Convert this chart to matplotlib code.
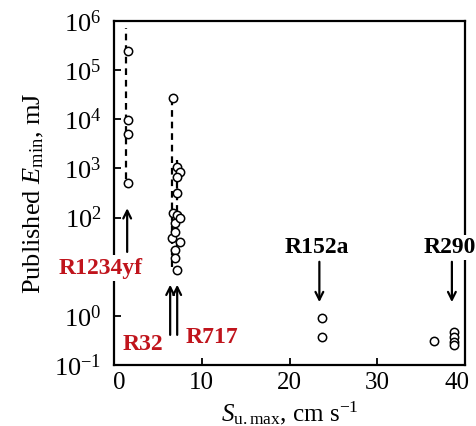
import numpy as np
import matplotlib
matplotlib.use("Agg")
import matplotlib.pyplot as plt
from matplotlib.transforms import ScaledTranslation

plt.rcParams['font.family'] = ['Liberation Serif', 'DejaVu Serif']
plt.rcParams['mathtext.fontset'] = 'custom'
plt.rcParams['mathtext.rm'] = 'Liberation Serif'
plt.rcParams['mathtext.it'] = 'Liberation Serif:italic'

# published minimum ignition energies (mJ) vs max burning velocity (cm/s)
r1234yf_x = [1.6, 1.6, 1.6, 1.6]
r1234yf_e = [2.4e5, 9.5e3, 5.0e3, 500]

r32_x = [6.7, 6.7, 6.6, 6.95, 6.95, 6.95, 6.95]
r32_e = [2.7e4, 123, 38, 51, 22, 15, 77]

r717_x = [7.2, 7.5, 7.2, 7.2, 7.2, 7.5, 7.5, 7.2]
r717_e = [1070, 850, 670, 320, 112, 100, 32, 8.5]

r152a_x = [23.7, 23.7]
r152a_e = [0.91, 0.37]

r290_x = [36.5, 38.7, 38.7, 38.7, 38.7]
r290_e = [0.31, 0.46, 0.37, 0.29, 0.25]

# dashed ranges: (x, low, high)
ranges = [(1.4, 600, 7.2e5), (6.6, 10, 2.7e4), (7.2, 15, 1.5e3), (23.6, 0.75, 0.9)]

# labels: text, x, y, colour
labels = [("R1234yf", -1.5, 9.4, "#C0141C"),
          ("R32", 3.3, 0.26, "#C0141C"),
          ("R717", 11.2, 0.37, "#C0141C"),
          ("R152a", 23.1, 25, "black"),
          ("R290", 38.3, 25, "black")]

# arrows: x, tail y, head y
arrows = [(1.5, 20, 155), (6.4, 0.41, 4.3), (7.2, 0.41, 4.3),
          (23.4, 12.6, 1.9), (38.5, 12.6, 1.9)]

xticks = [0, 10, 20, 30, 40]
ytick_exp = [-1, 0, 1, 2, 3, 4, 5, 6]

fig = plt.figure(figsize=(4.76, 4.26), dpi=100)
ax = fig.add_axes([0.2395, 0.1432, 0.7375, 0.8075])

for x, lo, hi in ranges:
    ax.plot([x, x], [lo, hi], color='black', lw=1.6, ls=(0, (3, 2.2)), zorder=2)

for xs, es in [(r1234yf_x, r1234yf_e), (r32_x, r32_e), (r717_x, r717_e),
               (r152a_x, r152a_e), (r290_x, r290_e)]:
    ax.plot(xs, es, 'o', ms=6, mfc='white', mec='black', mew=1.1, ls='none', zorder=3)

for x, tail, head in arrows:
    ax.annotate('', xy=(x, head), xytext=(x, tail),
                arrowprops=dict(arrowstyle='->', color='black', lw=1.6,
                                mutation_scale=14, shrinkA=0, shrinkB=0),
                zorder=4)

for text, x, y, col in labels:
    ax.text(x, y, text, color=col, fontsize=17, fontweight='bold', ha='center',
            va='center', clip_on=False, zorder=5,
            bbox=dict(facecolor='white', edgecolor='none', pad=1.5))

ax.set_yscale('log')
ax.set_xlim(0, 40)
ax.set_ylim(0.1, 1e6)
ax.set_xticks(xticks)
ax.set_yticks([10.0 ** k for k in ytick_exp])
# the 10^1 label sits under the R1234yf tag
ax.set_yticklabels(['' if k == 1 else r'$\mathregular{10^{%d}}$' % k for k in ytick_exp])
ax.minorticks_off()
ax.tick_params(direction='in', length=5, width=1.3, labelsize=19)
ax.tick_params(axis='x', labelsize=18, pad=5)
ax.tick_params(axis='y', pad=9)
for s in ax.spines.values():
    s.set_linewidth(1.6)
    s.set_zorder(1)

# end labels nudged inwards like the original
xl = ax.get_xticklabels()
xl[0].set_transform(xl[0].get_transform() + ScaledTranslation(5 / 100, 0, fig.dpi_scale_trans))
xl[-1].set_transform(xl[-1].get_transform() + ScaledTranslation(-8 / 100, 0, fig.dpi_scale_trans))

ax.set_xlabel(r'$\mathit{S}_{\mathrm{u.max}}$, cm s$^{\mathrm{-1}}$', fontsize=18, labelpad=4)
ax.set_ylabel(r'Published $\mathit{E}_{\mathrm{min}}$, mJ', fontsize=19, labelpad=6)

fig.savefig('out.png', dpi=100)
